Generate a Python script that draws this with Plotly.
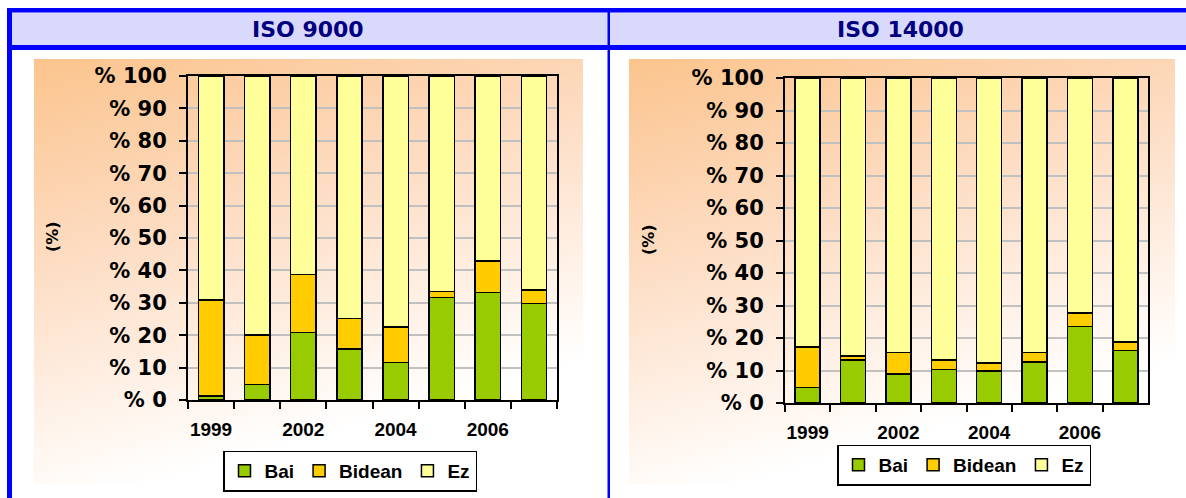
import base64
import plotly.graph_objects as go

# chart data (percent of firms)
years = ["1999", "2000", "2002", "2003", "2004", "2005", "2006", "2007"]
year_labels = ["1999", "", "2002", "", "2004", "", "2006", ""]
y_ticks = [0, 10, 20, 30, 40, 50, 60, 70, 80, 90, 100]
y_labels = ["% 0", "% 10", "% 20", "% 30", "% 40", "% 50", "% 60", "% 70", "% 80", "% 90", "% 100"]

iso9000_bai = [1.3, 4.8, 20.8, 15.7, 11.6, 31.7, 33.2, 29.8]
iso9000_bidean = [29.5, 15.2, 17.9, 9.5, 10.9, 1.8, 9.7, 4.1]
iso9000_ez = [69.2, 80.0, 61.3, 74.8, 77.5, 66.5, 57.1, 66.1]

iso14000_bai = [4.8, 13.2, 9.0, 10.3, 9.9, 12.6, 23.6, 16.2]
iso14000_bidean = [12.4, 1.2, 6.6, 2.9, 2.4, 3.0, 4.1, 2.6]
iso14000_ez = [82.8, 85.6, 84.4, 86.8, 87.7, 84.4, 72.3, 81.2]

series_names = ["Bai", "Bidean", "Ez"]
series_colors = ["#99CC00", "#FFCC00", "#FFFF99"]

W, H = 1186, 498
BLUE = "#0000FF"


# pixel -> paper helpers
def px(x):
    return x / W


def py(y):
    return 1 - y / H


fig = go.Figure()


def add_chart(values, xa, ya, legend):
    for name, vals, color in zip(series_names, values, series_colors):
        fig.add_trace(go.Bar(x=years, y=vals, name=name, xaxis=xa, yaxis=ya, legend=legend,
                             marker=dict(color=color, line=dict(color="black", width=1.5))))


add_chart([iso9000_bai, iso9000_bidean, iso9000_ez], "x", "y", "legend")
add_chart([iso14000_bai, iso14000_bidean, iso14000_ez], "x2", "y2", "legend2")

# peach gradient used behind each chart
svg = ("<svg xmlns='http://www.w3.org/2000/svg' width='100' height='100' viewBox='0 0 100 100' "
       "preserveAspectRatio='none'><defs><linearGradient id='g' x1='0' y1='0' x2='0.35' y2='0.95'>"
       "<stop offset='0' stop-color='#FBC48D'/><stop offset='0.45' stop-color='#FDDCC2'/>"
       "<stop offset='1' stop-color='#FFFFFF'/></linearGradient></defs>"
       "<rect width='100' height='100' fill='url(#g)'/></svg>")
grad = "data:image/svg+xml;base64," + base64.b64encode(svg.encode()).decode()

images = []
for x0, x1 in [(34, 583), (629, 1175)]:
    images.append(dict(source=grad, xref="paper", yref="paper", x=px(x0), y=py(59),
                       sizex=px(x1) - px(x0), sizey=py(59) - py(484),
                       sizing="stretch", layer="below", xanchor="left", yanchor="top"))

# table frame
shapes = [
    dict(type="rect", x0=px(7), x1=1, y0=py(45), y1=py(12.5), fillcolor="#D9D9FB", line_width=0),
    dict(type="rect", x0=px(7), x1=1, y0=py(12.5), y1=py(8), fillcolor=BLUE, line_width=0),
    dict(type="rect", x0=px(7), x1=1, y0=py(50), y1=py(45), fillcolor=BLUE, line_width=0),
    dict(type="rect", x0=px(7), x1=px(12), y0=0, y1=py(8), fillcolor=BLUE, line_width=0),
    dict(type="rect", x0=px(607.5), x1=px(610), y0=0, y1=py(8), fillcolor=BLUE, line_width=0),
]
for s in shapes:
    s["xref"] = "paper"
    s["yref"] = "paper"
    s["layer"] = "below"

header_font = dict(family="DejaVu Sans", size=22, color="#000080", weight="bold")
title_font = dict(family="DejaVu Sans", size=16, color="black", weight="bold")
annotations = [
    dict(text="ISO 9000", x=px(308), y=py(29), font=header_font),
    dict(text="ISO 14000", x=px(900), y=py(29), font=header_font),
    dict(text="(%)", x=px(53), y=py(237), textangle=-90, font=title_font),
    dict(text="(%)", x=px(648), y=py(240), textangle=-90, font=title_font),
]
for a in annotations:
    a.update(xref="paper", yref="paper", showarrow=False, xanchor="center", yanchor="middle")

xaxis_style = dict(type="category", tickmode="array", tickvals=years, ticktext=year_labels,
                   tickson="boundaries", ticks="outside", ticklen=7, tickwidth=2, tickcolor="black",
                   showline=True, linecolor="black", linewidth=2, mirror=True, showgrid=False,
                   range=[-0.5, 7.5], ticklabelstandoff=11, tickangle=0, automargin=False,
                   tickfont=dict(family="Liberation Sans", size=19, color="black", weight="bold"))
yaxis_style = dict(range=[0, 100], tickmode="array", tickvals=y_ticks, ticktext=y_labels,
                   ticks="outside", ticklen=7, tickwidth=2, tickcolor="black",
                   showline=True, linecolor="black", linewidth=2, mirror=True,
                   showgrid=True, gridcolor="#C0C0C0", gridwidth=1.5, zeroline=False,
                   ticklabelstandoff=8, automargin=False,
                   tickfont=dict(family="DejaVu Sans", size=21, color="black", weight="bold"))

legend_style = dict(orientation="h", xref="paper", yref="paper", xanchor="center", yanchor="middle",
                    bgcolor="white", bordercolor="black", borderwidth=1.5,
                    font=dict(family="Liberation Sans", size=19, color="black", weight="bold"),
                    itemwidth=30, traceorder="normal")

fig.update_layout(
    width=W, height=H, autosize=False,
    margin=dict(l=0, r=0, t=0, b=0, autoexpand=False),
    paper_bgcolor="white", plot_bgcolor="rgba(0,0,0,0)",
    barmode="stack", bargap=0.45,
    xaxis=dict(xaxis_style, domain=[px(188), px(557)], anchor="y"),
    yaxis=dict(yaxis_style, domain=[py(400), py(76)], anchor="x"),
    xaxis2=dict(xaxis_style, domain=[px(785), px(1148)], anchor="y2"),
    yaxis2=dict(yaxis_style, domain=[py(403), py(78)], anchor="x2"),
    legend=dict(legend_style, x=px(350), y=py(471)),
    legend2=dict(legend_style, x=px(964), y=py(465)),
    images=images, shapes=shapes, annotations=annotations,
)

fig.write_html("out.html", config={"displayModeBar": False},
               post_script="document.body.style.margin='0';")
